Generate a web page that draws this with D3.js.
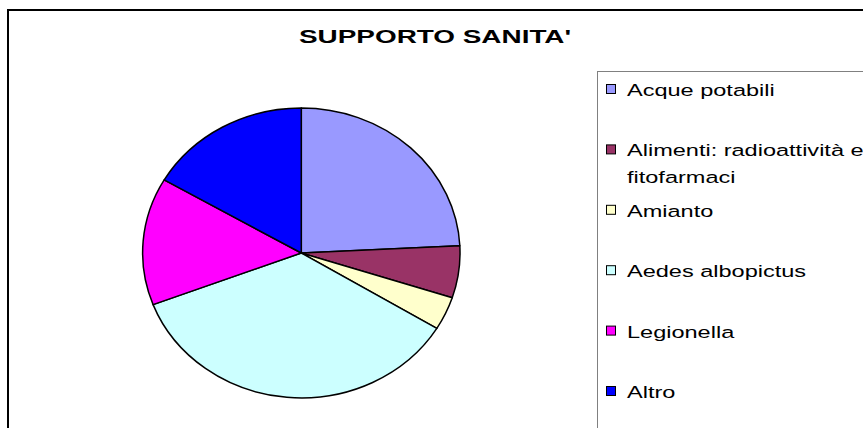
<!DOCTYPE html>
<html>
<head>
<meta charset="utf-8">
<script src="https://cdn.jsdelivr.net/npm/d3@7"></script>
<style>
  html, body { margin: 0; padding: 0; background: #fff; }
  svg { display: block; }
</style>
</head>
<body>
<svg id="chart" width="863" height="428"></svg>
<script>
const title = "SUPPORTO SANITA'";
const categories = ["Acque potabili", "Alimenti: radioattività e\nfitofarmaci", "Amianto", "Aedes albopictus", "Legionella", "Altro"];
const values = [24.2, 5.8, 3.7, 35.5, 14.2, 16.6];
const colors = ["#9999FF", "#993366", "#FFFFCC", "#CCFFFF", "#FF00FF", "#0000FF"];

const svg = d3.select("#chart");
const font = "'Liberation Sans', Arial, sans-serif";

// outer chart frame
svg.append("path")
  .attr("d", "M8,440 L8,10 L875,10")
  .attr("fill", "none").attr("stroke", "#000").attr("stroke-width", 2);

// title
svg.append("text")
  .attr("transform", "translate(299,43) scale(1.5,1)")
  .attr("font-family", font).attr("font-weight", "bold").attr("font-size", 18.6)
  .text(title);

// pie (elliptical)
const cx = 301.3, cy = 253, rx = 158.7, ry = 145;
const pie = d3.pie().sort(null).value(d => d)(values);
const arc = d3.arc().innerRadius(0).outerRadius(1);
const g = svg.append("g").attr("transform", `translate(${cx},${cy}) scale(${rx},${ry})`);
g.selectAll("path").data(pie).join("path")
  .attr("d", arc)
  .attr("fill", (d, i) => colors[i])
  .attr("stroke", "#000")
  .attr("stroke-width", 1.5)
  .attr("vector-effect", "non-scaling-stroke")
  .attr("stroke-linejoin", "round");

// legend box
svg.append("rect")
  .attr("x", 597.5).attr("y", 71.5).attr("width", 300).attr("height", 400)
  .attr("fill", "#fff").attr("stroke", "#808080").attr("stroke-width", 1);

const leg = svg.append("g");
const y0 = 96, step = 60.4;
categories.forEach((c, i) => {
  const y = y0 + i * step;
  leg.append("rect")
    .attr("x", 606.5).attr("y", y - 11.5).attr("width", 9).attr("height", 9)
    .attr("fill", colors[i]).attr("stroke", "#000").attr("stroke-width", 1);
  const lines = c.split("\n");
  lines.forEach((ln, k) => {
    leg.append("text")
      .attr("transform", `translate(627,${y + k * 26.5}) scale(1.36,1)`)
      .attr("font-family", font).attr("font-size", 17.3)
      .attr("fill", "#000")
      .text(ln);
  });
});
</script>
</body>
</html>
